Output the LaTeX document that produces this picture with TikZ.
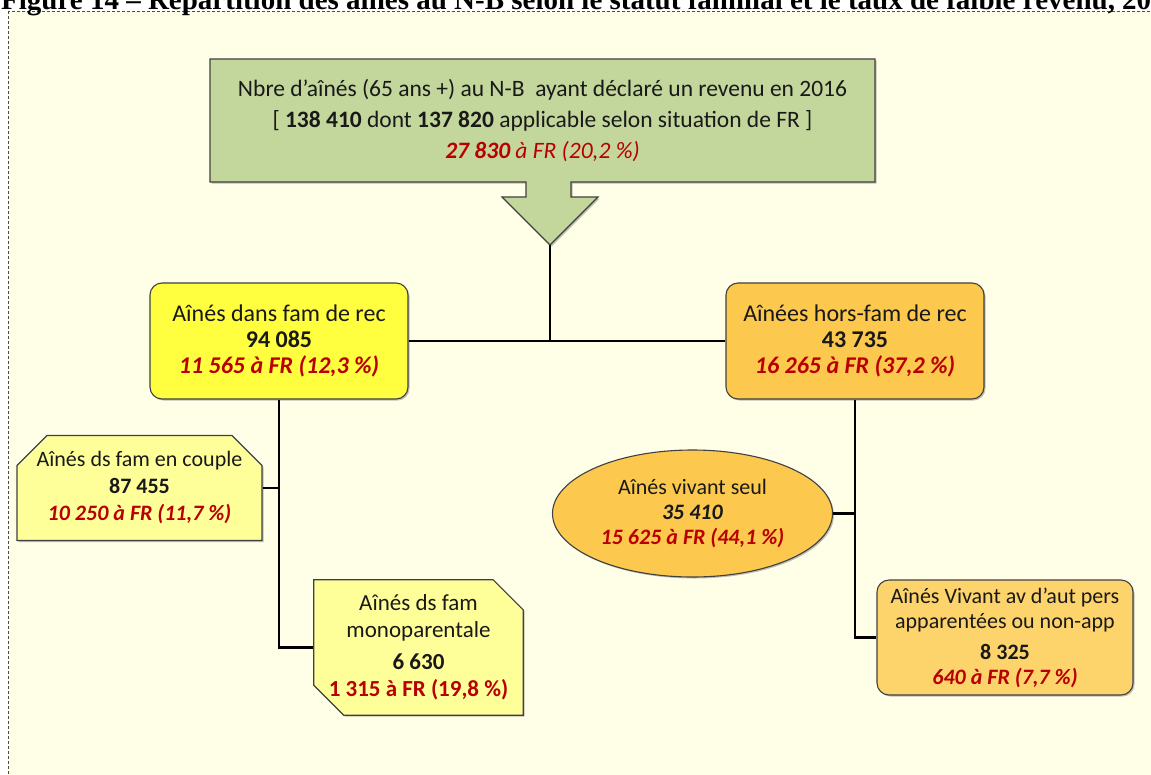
\documentclass[tikz,border=0pt]{standalone}
\usepackage{fontspec}
\setmainfont{Carlito}
\newfontfamily\titlefont{Liberation Serif}
\usetikzlibrary{positioning,shapes.geometric,shapes.misc,shadows,backgrounds}

\definecolor{ivory}{HTML}{FFFFE8}
\definecolor{boxgreen}{HTML}{C3D69B}
\definecolor{boxyellow}{HTML}{FFFF40}
\definecolor{paleyellow}{HTML}{FFFF99}
\definecolor{boxorange}{HTML}{FCC84E}
\definecolor{lightorange}{HTML}{FDD46C}
\definecolor{frred}{HTML}{B80000}
\definecolor{edgegray}{HTML}{404040}

\tikzset{
  frame/.style={draw=black!70, densely dashed, line width=0.6pt, fill=ivory},
  shade box/.style={drop shadow={shadow xshift=1.5pt, shadow yshift=-1.5pt, fill=black!50, opacity=.5}},
  card/.style={draw=edgegray, line width=1.1pt, align=center, inner sep=0pt,
    text=black!90, font=\fontsize{22}{25}\selectfont, shade box},
  levelone/.style={card, rounded corners=12pt, font=\fontsize{24}{26}\selectfont,
    minimum width=258pt, minimum height=116pt},
  leveltwo/.style={card, chamfered rectangle, chamfered rectangle xsep=15pt,
    chamfered rectangle ysep=15pt, fill=paleyellow},
  link/.style={draw=black, line width=2.4pt},
}
\newcommand{\atfr}[1]{\textcolor{frred}{\bfseries\itshape #1}}

\begin{document}
\begin{tikzpicture}[x=1pt, y=-1pt]
    \useasboundingbox (0,0) rectangle (1151,774);

    % frame and title
    \begin{scope}[on background layer]
      \fill[white] (0,0) rectangle (1151,774);
      \draw[frame] (8,11) rectangle (1170,800);
    \end{scope}
    \node[anchor=base west, inner sep=0pt, font=\titlefont\bfseries\fontsize{29}{32}\selectfont]
      (title) at (1,9) {Figure 14 – Répartition des aînés au N-B selon le statut familial et le taux de faible revenu, 2016};

    % top box with its arrow
    \node[align=center, inner sep=0pt, minimum width=665pt, minimum height=124pt,
      text=black!90, font=\fontsize{23.5}{31}\selectfont] (total) at (542.5,120.5) {%
      Nbre d'aînés (65 ans +) au N-B \ ayant déclaré un revenu en 2016\\
      {[} \textbf{138 410} dont \textbf{137 820} applicable selon situation de FR ]\\
      \textcolor{frred}{\itshape\textbf{27 830} à FR (20,2 \%)}};
    \coordinate (tip) at (550,245);
    \begin{scope}[on background layer]
      \draw[card, fill=boxgreen]
        (210,59) -- (875,59) -- (875,182) -- (571,182) -- (571,197) -- (598,197)
        -- (tip) -- (502,197) -- (526,197) -- (526,182) -- (210,182) -- cycle;
    \end{scope}

    % first level
    \node[levelone, fill=boxyellow] (famrec) at (279,341)
      {Aînés dans fam de rec\\\textbf{94 085}\\\atfr{11 565 à FR (12,3 \%)}};
    \node[levelone, fill=boxorange] (horsfam) at (855,341)
      {Aînées hors-fam de rec\\\textbf{43 735}\\\atfr{16 265 à FR (37,2 \%)}};

    % second level, left
    \node[leveltwo, chamfered rectangle corners={north west, north east},
      font=\fontsize{22}{27}\selectfont, minimum width=245pt, minimum height=105pt]
      (couple) at (139.5,488)
      {Aînés ds fam en couple\\\textbf{87 455}\\\atfr{10 250 à FR (11,7 \%)}};
    \node[leveltwo, chamfered rectangle corners={north east, south west},
      font=\fontsize{23}{27}\selectfont, minimum width=203pt, minimum height=117pt]
      (mono) at (418.5,647.5)
      {Aînés ds fam\\monoparentale\\[5pt]\textbf{6 630}\\
       \textcolor{frred}{\bfseries 1 315 à FR (19,8 \%)}};

    % second level, right
    \node[card, ellipse, fill=boxorange, minimum width=280pt, minimum height=127pt]
      (seul) at (692.5,513.5)
      {Aînés vivant seul\\\textbf{\itshape 35 410}\\\atfr{15 625 à FR (44,1 \%)}};
    \node[card, rounded corners=12pt, fill=lightorange, minimum width=256pt,
      minimum height=115pt] (autres) at (1005,637.5)
      {Aînés Vivant av d'aut pers\\apparentées ou non-app\\[6pt]\textbf{8 325}\\
       \atfr{640 à FR (7,7 \%)}};

    % connectors
    \draw[link] (tip) -- (tip |- famrec.east);
    \draw[link] (famrec.east) -- (horsfam.west);
    \draw[link] (famrec.south) -- (famrec.south |- mono.west) -- (mono.west);
    \draw[link] (couple.east) -- (couple.east -| famrec.south);
    \draw[link] (horsfam.south) -- (horsfam.south |- autres.west) -- (autres.west);
    \draw[link] (seul.east) -- (seul.east -| horsfam.south);
\end{tikzpicture}
\end{document}
